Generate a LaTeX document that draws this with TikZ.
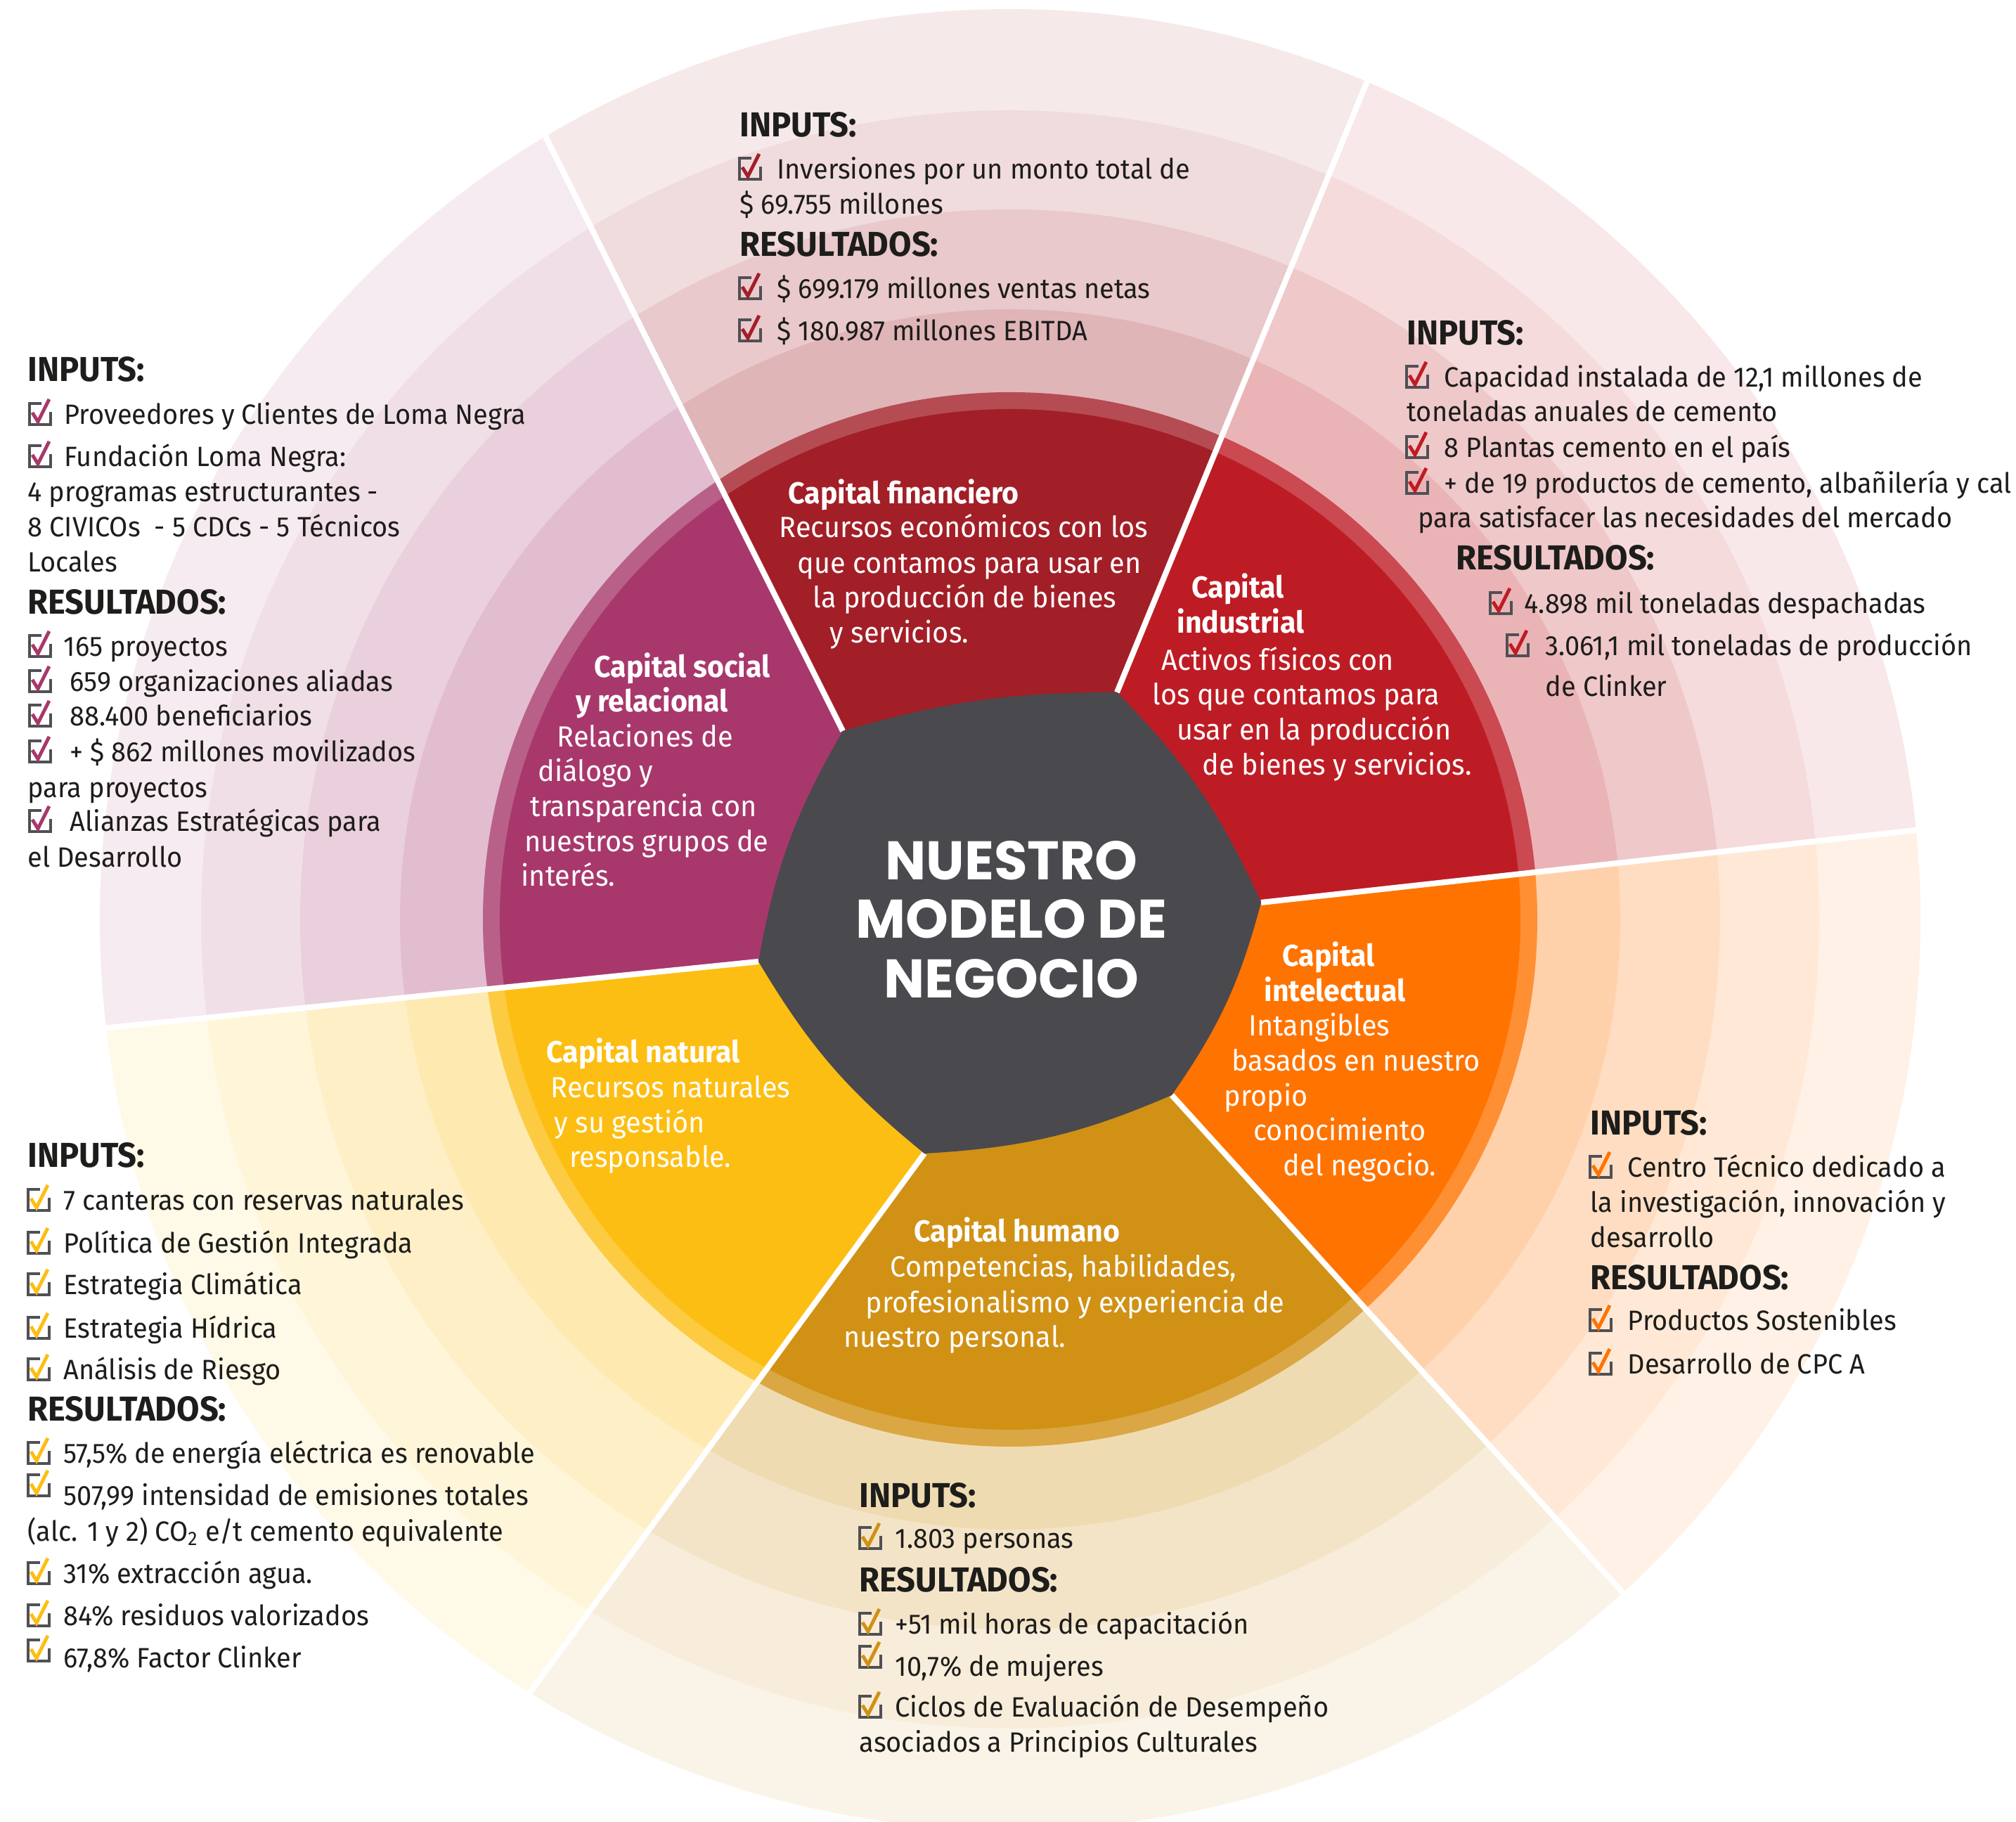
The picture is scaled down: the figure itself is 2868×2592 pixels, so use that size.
\documentclass[tikz,border=0pt]{standalone}
\usepackage{fontspec}
\setmainfont{Fira Sans}[FakeStretch=0.955]
\newfontfamily\titlefont{Poppins}
\usetikzlibrary{calc}
\definecolor{cfin}{HTML}{A21F28}
\definecolor{cind}{HTML}{BE1C24}
\definecolor{csoc}{HTML}{A8386C}
\definecolor{cnat}{HTML}{FDBE13}
\definecolor{chum}{HTML}{D09115}
\definecolor{cint}{HTML}{FF7300}
\definecolor{chex}{HTML}{4A494E}
\definecolor{ctxt}{HTML}{1D1D1B}
\definecolor{cbox}{HTML}{505055}
\tikzset{
 txtbody/.style={font=\fontsize{11.3}{13}\selectfont, text=ctxt, inner sep=0pt, anchor=base west},
 txthead/.style={font=\bfseries\fontsize{14}{15}\selectfont, text=ctxt, inner sep=0pt, anchor=base west},
 txtin/.style={font=\fontsize{11.8}{13}\selectfont, text=white, inner sep=0pt, anchor=base west},
 txtinb/.style={font=\bfseries\fontsize{12.2}{13}\selectfont, text=white, inner sep=0pt, anchor=base west},
 titletxt/.style={font=\titlefont\bfseries\fontsize{22}{24}\selectfont, text=white, inner sep=0pt, anchor=base},
 divider/.style={draw=white, line width=2.3pt},
 cbline/.style={draw=cbox, line width=1.1pt},
 cbcheck/.style={line width=1.4pt},
}
\newcommand\tline[5]{\node[#1] (#2) at (#3,{2592-#4}) {#5};}
\newcommand\chkbox[3]{\begin{scope}[shift={(#1,{2592-#2})}]
  \draw[cbline] (17,30) -- (0,30) -- (0,0) -- (30,0) -- (30,18);
  \draw[cbcheck,#3] (4,17) -- (12,4) -- (28,36);
 \end{scope}}
\newcommand\drawsector[5]{\begin{scope}
  \clip (C) -- (#2) -- (#3) -- (#4) -- (#5) -- cycle;
  \fill[#1!10!white] (C) circle (1295);
  \fill[#1!16!white] (C) circle (1151);
  \fill[#1!24!white] (C) circle (1010);
  \fill[#1!33!white] (C) circle (868);
  \fill[#1!80!white] (C) circle (750);
  \fill[#1] (C) circle (726);
 \end{scope}}
\begin{document}
\begin{tikzpicture}[x=0.01cm,y=0.01cm]
\useasboundingbox (0,0) rectangle (2868,2592);
\fill[white] (0,0) rectangle (2868,2592);
\coordinate (C) at (1437,1284);
\coordinate (V1) at (1199,1552);
\coordinate (V2) at (1589,1607);
\coordinate (V3) at (1794,1308);
\coordinate (V4) at (1667,1034);
\coordinate (V5) at (1315,951);
\coordinate (V6) at (1079,1224);
\coordinate (Q1) at (777,2396);
\coordinate (Q2) at (1935,2452);
\coordinate (Q3) at (2726,1411);
\coordinate (Q4) at (2308,327);
\coordinate (Q5) at (750,179);
\coordinate (Q6) at (146,1129);
\foreach \i in {1,...,6}{\coordinate (E\i) at ($(V\i)!2.2!(Q\i)$);}
% sectors
\drawsector{csoc}{V6}{E6}{E1}{V1}
\drawsector{cfin}{V1}{E1}{E2}{V2}
\drawsector{cind}{V2}{E2}{E3}{V3}
\drawsector{cint}{V3}{E3}{E4}{V4}
\drawsector{chum}{V4}{E4}{E5}{V5}
\drawsector{cnat}{V5}{E5}{E6}{V6}
% dividers
\begin{scope}
\clip (C) circle (1297);
\foreach \i in {1,...,6}{\draw[divider] (V\i) -- (E\i);}
\end{scope}
% hexagon
\fill[chex] (V1) to[bend right=10] (V6) to[bend right=10] (V5) to[bend right=10] (V4)
  to[bend right=10] (V3) to[bend right=10] (V2) to[bend right=8] (V1) -- cycle;
\node[titletxt] (t1) at (1439,1340) {NUESTRO};
\node[titletxt] (t2) at (1439,1257) {MODELO DE};
\node[titletxt] (t3) at (1439,1172) {NEGOCIO};
% inner texts
\tline{txtinb}{fin1}{1121}{717}{Capital financiero}
\tline{txtin}{fin2}{1108}{765}{Recursos económicos con los}
\tline{txtin}{fin3}{1134}{816}{que contamos para usar en}
\tline{txtin}{fin4}{1156}{865}{la producción de bienes}
\tline{txtin}{fin5}{1180}{915}{y servicios.}
\tline{txtinb}{soc1}{845}{964}{Capital social}
\tline{txtinb}{soc2}{819}{1013}{y relacional}
\tline{txtin}{soc3}{792}{1063}{Relaciones de}
\tline{txtin}{soc4}{765}{1112}{diálogo y}
\tline{txtin}{soc5}{754}{1162}{transparencia con}
\tline{txtin}{soc6}{746}{1212}{nuestros grupos de}
\tline{txtin}{soc7}{741}{1261}{interés.}
\tline{txtinb}{ind1}{1695}{851}{Capital}
\tline{txtinb}{ind2}{1674}{901}{industrial}
\tline{txtin}{ind3}{1652}{954}{Activos físicos con}
\tline{txtin}{ind4}{1639}{1003}{los que contamos para}
\tline{txtin}{ind5}{1674}{1053}{usar en la producción}
\tline{txtin}{ind6}{1710}{1103}{de bienes y servicios.}
\tline{txtinb}{int1}{1824}{1375}{Capital}
\tline{txtinb}{int2}{1798}{1425}{intelectual}
\tline{txtin}{int3}{1776}{1474}{Intangibles}
\tline{txtin}{int4}{1752}{1524}{basados en nuestro}
\tline{txtin}{int5}{1741}{1574}{propio}
\tline{txtin}{int6}{1783}{1623}{conocimiento}
\tline{txtin}{int7}{1825}{1673}{del negocio.}
\tline{txtinb}{nat1}{777}{1512}{Capital natural}
\tline{txtin}{nat2}{783}{1562}{Recursos naturales}
\tline{txtin}{nat3}{788}{1612}{y su gestión}
\tline{txtin}{nat4}{810}{1661}{responsable.}
\tline{txtinb}{hum1}{1300}{1767}{Capital humano}
\tline{txtin}{hum2}{1266}{1817}{Competencias, habilidades,}
\tline{txtin}{hum3}{1231}{1868}{profesionalismo y experiencia de}
\tline{txtin}{hum4}{1200}{1917}{nuestro personal.}
% financiero outer
\tline{txthead}{fo1}{1052}{195}{INPUTS:}
\chkbox{1052}{255}{cfin}
\tline{txtbody}{fo2}{1105}{255}{Inversiones por un monto total de}
\tline{txtbody}{fo3}{1052}{305}{\$ 69.755 millones}
\tline{txthead}{fo4}{1052}{365}{RESULTADOS:}
\chkbox{1052}{425}{cfin}
\tline{txtbody}{fo5}{1105}{425}{\$ 699.179 millones ventas netas}
\chkbox{1052}{485}{cfin}
\tline{txtbody}{fo6}{1105}{485}{\$ 180.987 millones EBITDA}
% social outer
\tline{txthead}{so1}{39}{543}{INPUTS:}
\chkbox{42}{604}{csoc}
\tline{txtbody}{so2}{91}{604}{Proveedores y Clientes de Loma Negra}
\chkbox{42}{664}{csoc}
\tline{txtbody}{so3}{91}{664}{Fundación Loma Negra:}
\tline{txtbody}{so4}{39}{714}{4 programas estructurantes -}
\tline{txtbody}{so5}{39}{764}{8 CIVICOs\ \ - 5 CDCs - 5 Técnicos}
\tline{txtbody}{so6}{39}{814}{Locales}
\tline{txthead}{so7}{39}{874}{RESULTADOS:}
\chkbox{42}{934}{csoc}
\tline{txtbody}{so8}{90}{934}{165 proyectos}
\chkbox{42}{984}{csoc}
\tline{txtbody}{so9}{99}{984}{659 organizaciones aliadas}
\chkbox{42}{1033}{csoc}
\tline{txtbody}{so10}{99}{1033}{88.400 beneficiarios}
\chkbox{42}{1084}{csoc}
\tline{txtbody}{so11}{99}{1084}{+ \$ 862 millones movilizados}
\tline{txtbody}{so12}{39}{1135}{para proyectos}
\chkbox{42}{1183}{csoc}
\tline{txtbody}{so13}{99}{1183}{Alianzas Estratégicas para}
\tline{txtbody}{so14}{39}{1234}{el Desarrollo}
% industrial outer
\tline{txthead}{io1}{2001}{491}{INPUTS:}
\chkbox{2001}{551}{cind}
\tline{txtbody}{io2}{2054}{551}{Capacidad instalada de 12,1 millones de}
\tline{txtbody}{io3}{2001}{600}{toneladas anuales de cemento}
\chkbox{2001}{651}{cind}
\tline{txtbody}{io4}{2054}{651}{8 Plantas cemento en el país}
\chkbox{2001}{702}{cind}
\tline{txtbody}{io5}{2054}{702}{+ de 19 productos de cemento, albañilería y cal}
\tline{txtbody}{io6}{2017}{751}{para satisfacer las necesidades del mercado}
\tline{txthead}{io7}{2071}{811}{RESULTADOS:}
\chkbox{2120}{873}{cind}
\tline{txtbody}{io8}{2168}{873}{4.898 mil toneladas despachadas}
\chkbox{2144}{933}{cind}
\tline{txtbody}{io9}{2198}{933}{3.061,1 mil toneladas de producción}
\tline{txtbody}{io10}{2198}{991}{de Clinker}
% intelectual outer
\tline{txthead}{eo1}{2262}{1615}{INPUTS:}
\chkbox{2262}{1675}{cint}
\tline{txtbody}{eo2}{2315}{1675}{Centro Técnico dedicado a}
\tline{txtbody}{eo3}{2262}{1725}{la investigación, innovación y}
\tline{txtbody}{eo4}{2262}{1775}{desarrollo}
\tline{txthead}{eo5}{2262}{1835}{RESULTADOS:}
\chkbox{2262}{1893}{cint}
\tline{txtbody}{eo6}{2315}{1893}{Productos Sostenibles}
\chkbox{2262}{1955}{cint}
\tline{txtbody}{eo7}{2315}{1955}{Desarrollo de CPC A}
% natural outer
\tline{txthead}{no1}{39}{1661}{INPUTS:}
\chkbox{40}{1722}{cnat}
\tline{txtbody}{no2}{90}{1722}{7 canteras con reservas naturales}
\chkbox{40}{1783}{cnat}
\tline{txtbody}{no3}{90}{1783}{Política de Gestión Integrada}
\chkbox{40}{1842}{cnat}
\tline{txtbody}{no4}{90}{1842}{Estrategia Climática}
\chkbox{40}{1904}{cnat}
\tline{txtbody}{no5}{90}{1904}{Estrategia Hídrica}
\chkbox{40}{1963}{cnat}
\tline{txtbody}{no6}{90}{1963}{Análisis de Riesgo}
\tline{txthead}{no7}{39}{2022}{RESULTADOS:}
\chkbox{40}{2082}{cnat}
\tline{txtbody}{no8}{90}{2082}{57,5\% de energía eléctrica es renovable}
\chkbox{40}{2128}{cnat}
\tline{txtbody}{no9}{90}{2142}{507,99 intensidad de emisiones totales}
\tline{txtbody}{no10}{39}{2193}{(alc. 1 y 2) CO\textsubscript{2} e/t cemento equivalente}
\chkbox{40}{2253}{cnat}
\tline{txtbody}{no11}{90}{2253}{31\% extracción agua.}
\chkbox{40}{2313}{cnat}
\tline{txtbody}{no12}{90}{2313}{84\% residuos valorizados}
\chkbox{40}{2363}{cnat}
\tline{txtbody}{no13}{90}{2373}{67,8\% Factor Clinker}
% humano outer
\tline{txthead}{ho1}{1222}{2145}{INPUTS:}
\chkbox{1223}{2203}{chum}
\tline{txtbody}{ho2}{1273}{2203}{1.803 personas}
\tline{txthead}{ho3}{1222}{2265}{RESULTADOS:}
\chkbox{1223}{2325}{chum}
\tline{txtbody}{ho4}{1273}{2325}{+51 mil horas de capacitación}
\chkbox{1223}{2372}{chum}
\tline{txtbody}{ho5}{1273}{2385}{10,7\% de mujeres}
\chkbox{1223}{2443}{chum}
\tline{txtbody}{ho6}{1273}{2443}{Ciclos de Evaluación de Desempeño}
\tline{txtbody}{ho7}{1222}{2493}{asociados a Principios Culturales}
\end{tikzpicture}
\end{document}
